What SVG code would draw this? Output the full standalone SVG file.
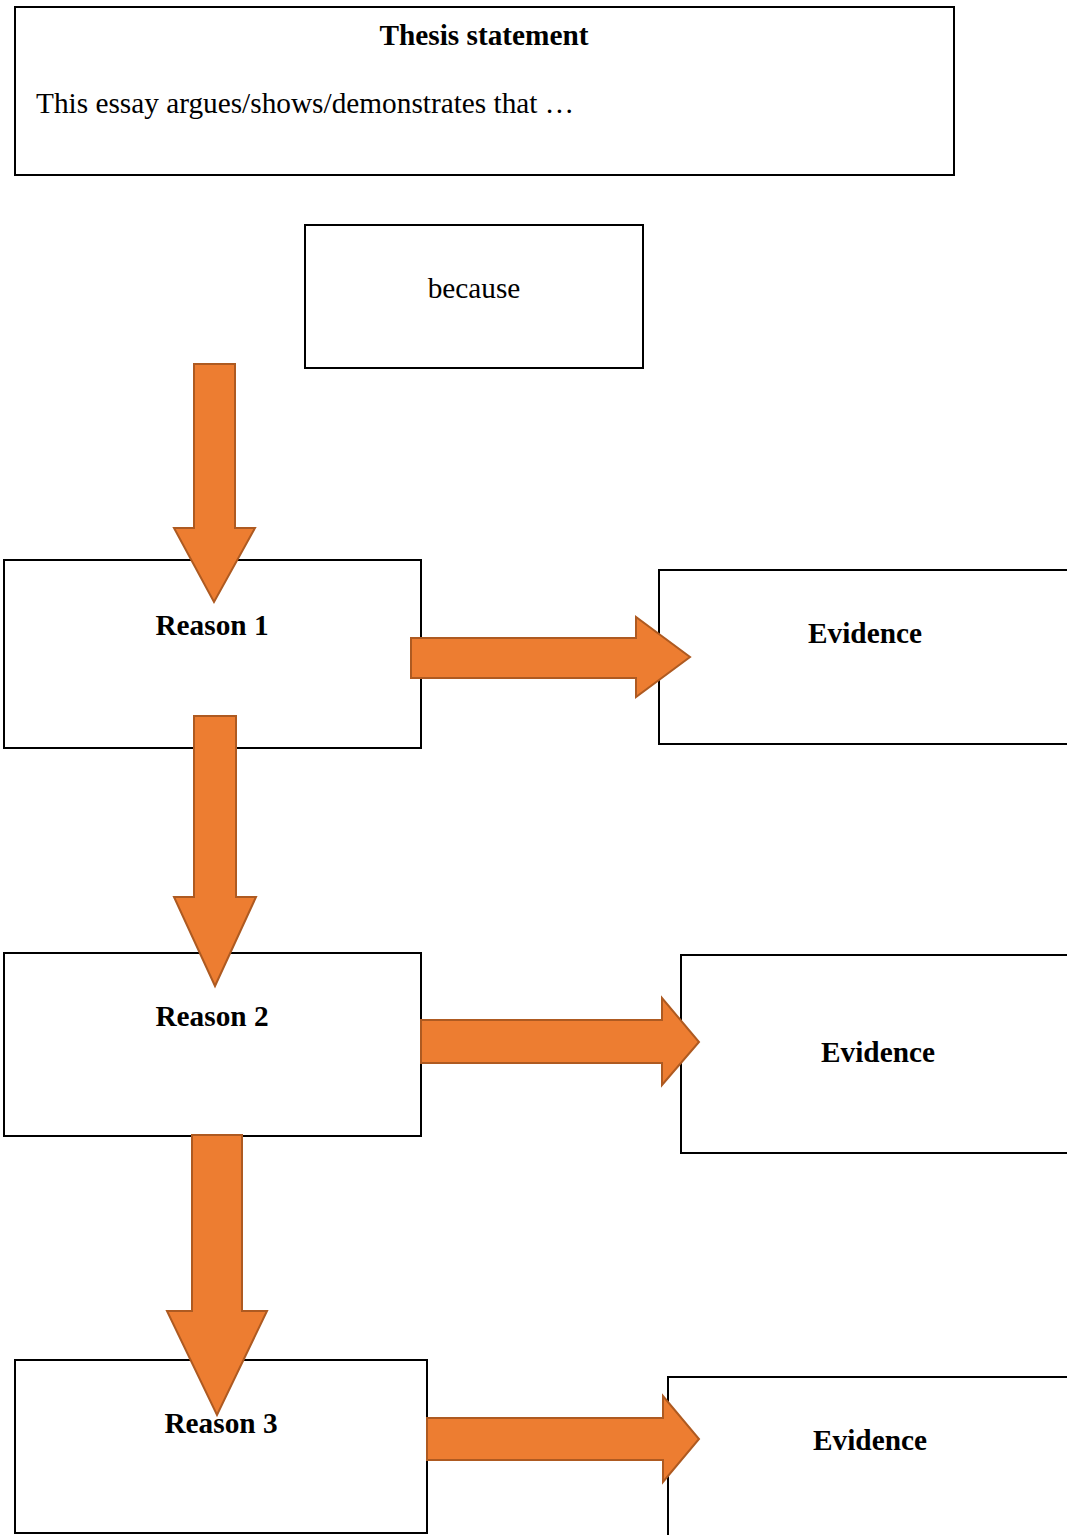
<svg xmlns="http://www.w3.org/2000/svg" width="1067" height="1535" viewBox="0 0 1067 1535">
<style>
.box{fill:#fff;stroke:#000;stroke-width:2}
.arr{fill:#ED7D31;stroke:#AE5A21;stroke-width:2;stroke-linejoin:miter}
.t{font-family:"Liberation Serif","Times New Roman",serif;font-size:29.3px;fill:#000}
.b{font-weight:bold;text-anchor:middle}
</style>
<rect width="1067" height="1535" fill="#fff"/>
<g id="thesis"><rect class="box" x="15" y="7" width="939" height="168"/>
<text class="t b" x="484" y="45">Thesis statement</text>
<text class="t" x="36" y="113">This essay argues/shows/demonstrates that …</text></g>
<g id="because"><rect class="box" x="305" y="225" width="338" height="143"/>
<text class="t" x="474" y="298" text-anchor="middle">because</text></g>
<g id="reason1"><rect class="box" x="4" y="560" width="417" height="188"/></g>
<g id="evidence1"><rect class="box" x="659" y="570" width="420" height="174"/></g>
<g id="reason2"><rect class="box" x="4" y="953" width="417" height="183"/></g>
<g id="evidence2"><rect class="box" x="681" y="955" width="400" height="198"/></g>
<g id="reason3"><rect class="box" x="15" y="1360" width="412" height="173"/></g>
<g id="evidence3"><rect class="box" x="668" y="1377" width="410" height="170"/></g>
<g id="connectors">
<polygon class="arr" points="194,364 235,364 235,528 255,528 214,602 174,528 194,528"/>
<polygon class="arr" points="411,638 636,638 636,617 690,657 636,697 636,678 411,678"/>
<polygon class="arr" points="194,716 236,716 236,897 256,897 215,986 174,897 194,897"/>
<polygon class="arr" points="421,1020 662,1020 662,998 699,1042 662,1085 662,1063 421,1063"/>
<polygon class="arr" points="192,1135 242,1135 242,1311 267,1311 217,1415 167,1311 192,1311"/>
<polygon class="arr" points="427,1418 663,1418 663,1396 699,1439 663,1482 663,1460 427,1460"/>
</g>
<g id="labels">
<text class="t b" x="212" y="635">Reason 1</text>
<text class="t b" x="865" y="643">Evidence</text>
<text class="t b" x="212" y="1026">Reason 2</text>
<text class="t b" x="878" y="1062">Evidence</text>
<text class="t b" x="221" y="1433">Reason 3</text>
<text class="t b" x="870" y="1450">Evidence</text>
</g>
</svg>
